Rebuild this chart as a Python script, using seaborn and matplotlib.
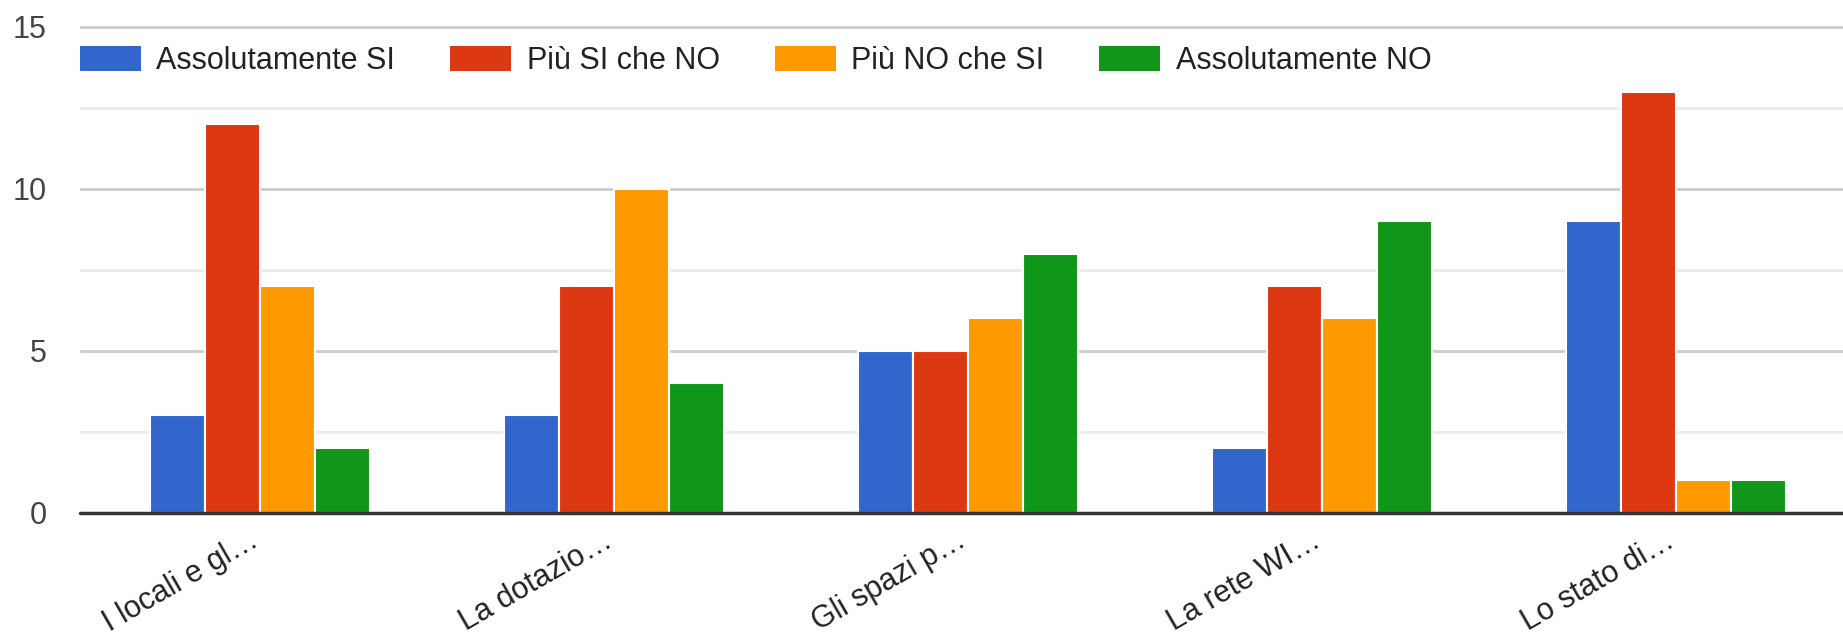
import pandas as pd
import matplotlib
matplotlib.use("Agg")
import matplotlib.pyplot as plt
import seaborn as sns

# data
categories = ["I locali e gl…", "La dotazio…", "Gli spazi p…", "La rete WI…", "Lo stato di…"]
series = ["Assolutamente SI", "Più SI che NO", "Più NO che SI", "Assolutamente NO"]
assolutamente_si = [3, 3, 5, 2, 9]
piu_si_che_no = [12, 7, 5, 7, 13]
piu_no_che_si = [7, 10, 6, 6, 1]
assolutamente_no = [2, 4, 8, 9, 1]
colors = ["#3366cc", "#dc3912", "#ff9900", "#109618"]

values = [assolutamente_si, piu_si_che_no, piu_no_che_si, assolutamente_no]
rows = []
for name, vals in zip(series, values):
    for cat, v in zip(categories, vals):
        rows.append({"categoria": cat, "risposta": name, "conteggio": v})
df = pd.DataFrame(rows)

sns.set_style("white")
plt.rcParams['font.family'] = ['Liberation Sans', 'DejaVu Sans']

W, H = 1843, 637
fig = plt.figure(figsize=(W / 100, H / 100), dpi=100)
ax = fig.add_axes([80 / W, 124.5 / H, 1 - 80 / W, 486.5 / H])

sns.barplot(data=df, x="categoria", y="conteggio", hue="risposta",
            hue_order=series, order=categories, palette=colors,
            width=0.62, edgecolor="white", linewidth=1.5, saturation=1,
            ax=ax, legend=False, zorder=2)

ax.set_xlim(-0.508, 4.471)
ax.set_ylim(0, 15.03)
ax.set_yticks([0, 5, 10, 15])
ax.set_yticks([2.5, 7.5, 12.5], minor=True)
ax.grid(axis="y", which="major", color="#cccccc", linewidth=2, zorder=0)
ax.grid(axis="y", which="minor", color="#ebebeb", linewidth=2, zorder=0)
ax.set_axisbelow(True)
ax.axhline(0, color="#333333", linewidth=2.5, zorder=3, clip_on=False)
for s in ax.spines.values():
    s.set_visible(False)

ax.set_xlabel("")
ax.set_ylabel("")
ax.tick_params(axis="y", which="both", length=0, pad=24, labelsize=22, labelcolor="#444444")
ax.tick_params(axis="x", length=0, pad=23.5, labelsize=22, labelcolor="#222222")
plt.setp(ax.get_xticklabels(), rotation=30, ha="right", va="baseline", rotation_mode="anchor")

handles = [plt.Rectangle((0, 0), 1, 1, facecolor=c, edgecolor="none") for c in colors]
ax.legend(handles, series, loc="center left", bbox_to_anchor=(0, 0.928), ncol=4,
          frameon=False, fontsize=22, handlelength=2.0, handleheight=0.85,
          handletextpad=0.5, columnspacing=1.8, borderaxespad=0, borderpad=0,
          labelcolor="#222222")

fig.savefig("out.png", dpi=100)
